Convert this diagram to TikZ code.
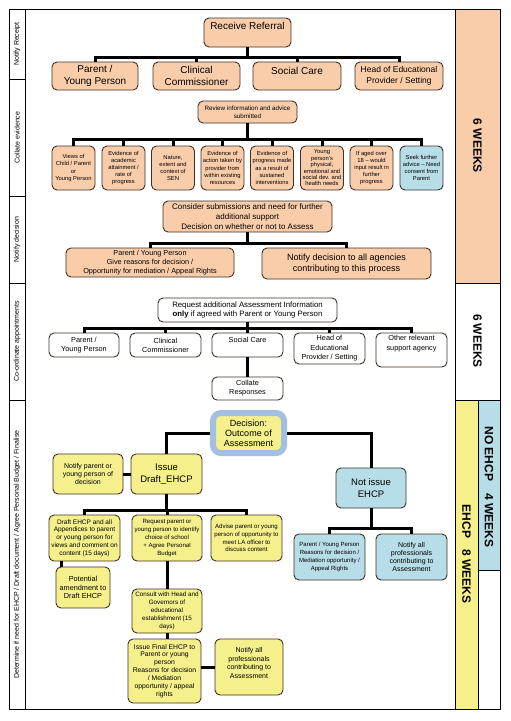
\documentclass[tikz,border=0pt]{standalone}
\usepackage{fontspec}
\setmainfont{Liberation Sans}
\usepackage{xcolor}
\usepackage{tikz}
\usetikzlibrary{calc}

\definecolor{peach}{HTML}{FACDAA}
\definecolor{paleblue}{HTML}{B7DEE8}
\definecolor{paleyellow}{HTML}{F6F08C}
\definecolor{deciblue}{HTML}{A3C0E2}
\definecolor{boxline}{HTML}{3C3228}

\newcommand{\setfs}[2]{\fontsize{#1}{#2}\selectfont}

\tikzset{
  box/.style={draw=boxline, line width=0.9pt, rounded corners=5pt, align=center, inner sep=1pt},
  peachbox/.style={box, fill=peach},
  bluebox/.style={box, fill=paleblue},
  yellowbox/.style={box, fill=paleyellow},
  whitebox/.style={box, fill=white},
  evid/.style={peachbox, sz={43}{44}, font=\setfs{5.8}{7.2}},
  link/.style={line width=3pt},
  weeks/.style={rotate=-90, font=\bfseries\setfs{12}{14}},
  sidelabel/.style={rotate=90, font=\setfs{7}{8}},
  sz/.style 2 args={minimum width=#1, minimum height=#2},
}

\begin{document}
\begin{tikzpicture}[x=1pt, y=-1pt]
    \useasboundingbox (0,0) rectangle (511,721);

    % frame and side labels
    \draw[line width=0.8pt] (9,9) rectangle (455,709);
    \draw[line width=0.8pt] (25,9) -- (25,709);
    \foreach \y in {79,196,283,400} \draw[line width=0.8pt] (9,\y) -- (25,\y);
    \node[sidelabel] (lblreceipt) at (17,44) {Notify Receipt};
    \node[sidelabel] (lblcollate) at (17,137.5) {Collate evidence};
    \node[sidelabel] (lbldecision) at (17,239.5) {Notify decision};
    \node[sidelabel] (lblappoint) at (17,341.5) {Co-ordinate appointments};
    \node[sidelabel] (lblfinal) at (17,554.5) {Determine if need for EHCP / Draft document / Agree Personal Budget / Finalise};

    % weeks column
    \draw[line width=0.8pt, fill=peach] (455,9) rectangle (500,283);
    \draw[line width=0.8pt] (455,283) rectangle (500,400);
    \draw[line width=0.8pt, fill=paleyellow] (455,400) rectangle (478,709);
    \draw[line width=0.8pt, fill=paleblue] (478,400) rectangle (500,570);
    \draw[line width=0.8pt] (478,570) rectangle (500,709);
    \node[weeks] (wkfirst) at (477.5,146) {6 WEEKS};
    \node[weeks] (wksecond) at (477.5,341) {6 WEEKS};
    \node[weeks] (wknoehcp) at (489,487) {NO EHCP\hspace{12pt}4 WEEKS};
    \node[weeks] (wkehcp) at (466.5,554) {EHCP\hspace{11pt}8 WEEKS};

    % Notify receipt
    \node[peachbox, sz={87}{29}, font=\setfs{10}{12}, text depth=14pt] (referral) at (247.5,32.5) {Receive Referral};
    \node[peachbox, sz={86}{28}, font=\setfs{10}{11.5}] (parent1) at (95,76) {Parent /\\Young Person};
    \node[peachbox, sz={87}{28}, font=\setfs{10}{11.5}] (clin1) at (196.5,76) {Clinical\\Commissioner};
    \node[peachbox, sz={88}{28}, font=\setfs{10}{11.5}, text depth=11pt] (social1) at (297,76) {Social Care};
    \node[peachbox, sz={88}{28}, font=\setfs{8.5}{11}] (head1) at (399,76) {Head of Educational\\Provider / Setting};

    % Collate evidence
    \node[peachbox, sz={99}{22}, font=\setfs{6.3}{7.5}] (review) at (247.5,112) {Review information and advice\\submitted};
    \node[evid] (ev1) at (73.5,168) {Views of\\Child / Parent\\or\\Young Person};
    \node[evid] (ev2) at (123.5,168) {Evidence of\\academic\\attainment /\\rate of\\progress};
    \node[evid] (ev3) at (173,168) {Nature,\\extent and\\context of\\SEN};
    \node[evid] (ev4) at (222.5,168) {Evidence of\\action taken by\\provider from\\within existing\\resources};
    \node[evid] (ev5) at (272,168) {Evidence of\\progress made\\as a result of\\sustained\\interventions};
    \node[evid, font=\setfs{5.8}{6.4}] (ev6) at (322,168) {Young\\person's\\physical,\\emotional and\\social dev. and\\health needs};
    \node[evid] (ev7) at (371.5,168) {If aged over\\18 -- would\\input result in\\further\\progress};
    \node[evid, fill=paleblue] (ev8) at (421.5,168) {Seek further\\advice -- Need\\consent from\\Parent};

    % Notify decision
    \node[peachbox, sz={169}{31}, font=\setfs{8}{9.7}] (consider) at (247.5,216.5) {Consider submissions and need for further\\additional support\\Decision on whether or not to Assess};
    \node[peachbox, sz={168}{29}, font=\setfs{7.3}{9.2}] (parent2) at (150,262.5) {Parent / Young Person\\Give reasons for decision /\\Opportunity for mediation / Appeal Rights};
    \node[peachbox, sz={169}{31}, font=\setfs{9}{11}] (notify2) at (346.5,263.5) {Notify decision to all agencies\\contributing to this process};

    % Co-ordinate appointments
    \node[whitebox, sz={179}{24}, font=\setfs{7.8}{9}] (request) at (247.5,310) {Request additional Assessment Information\\\textbf{only} if agreed with Parent or Young Person};
    \node[whitebox, sz={70}{24}, font=\setfs{7.3}{9}] (parent3) at (84,345) {Parent /\\Young Person};
    \node[whitebox, sz={71}{24}, font=\setfs{7.3}{9}] (clin3) at (165.5,345) {Clinical\\Commissioner};
    \node[whitebox, sz={71}{24}, font=\setfs{7.3}{9}, text depth=10pt] (social3) at (247.5,345) {Social Care};
    \node[whitebox, sz={71}{31}, font=\setfs{7.3}{9.5}] (head3) at (329.5,348.5) {Head of\\Educational\\Provider / Setting};
    \node[whitebox, sz={71}{34}, font=\setfs{7.3}{9.5}, text depth=14pt] (other3) at (411.5,350) {Other relevant\\support agency};
    \node[whitebox, sz={71}{23}, font=\setfs{7.3}{9}] (collate) at (247.5,388.5) {Collate\\Responses};

    % Determine / draft / finalise
    \node[yellowbox, draw=deciblue, line width=6pt, rounded corners=8pt, sz={71}{40}, font=\setfs{9}{10.2}] (decision) at (248.5,433) {Decision:\\Outcome of\\Assessment};
    \node[yellowbox, sz={71}{40}, font=\setfs{9.5}{11.7}] (issue) at (166.5,474) {Issue\\Draft\_EHCP};
    \node[yellowbox, sz={70}{40}, font=\setfs{7}{7.6}] (notifyp) at (88,474) {Notify parent or\\young person of\\decision};
    \node[yellowbox, sz={71}{46}, font=\setfs{6.5}{7.8}] (draftall) at (84.5,538) {Draft EHCP and all\\Appendices to parent\\or young person for\\views and comment on\\content (15 days)};
    \node[yellowbox, sz={70}{46}, font=\setfs{6.1}{7.8}] (request2) at (167,538) {Request parent or\\young person to identify\\choice of school\\+ Agree Personal\\Budget};
    \node[yellowbox, sz={71}{46}, font=\setfs{6.1}{7.8}] (advise) at (246.5,538) {Advise parent or young\\person of opportunity to\\meet LA officer to\\discuss content};
    \node[yellowbox, sz={54}{41}, font=\setfs{7.3}{8.7}] (amend) at (83,587.5) {Potential\\amendment to\\Draft EHCP};
    \node[yellowbox, sz={70}{44}, font=\setfs{6.3}{7.9}] (consult) at (167,611) {Consult with Head and\\Governors of\\educational\\establishment (15\\days)};
    \node[yellowbox, sz={73}{64}, font=\setfs{6.8}{7.9}] (final) at (164.5,671) {Issue Final EHCP to\\Parent or young\\person\\Reasons for decision\\/ Mediation\\opportunity / appeal\\rights};
    \node[yellowbox, sz={68}{56}, font=\setfs{7}{8.7}, text depth=8pt] (notifyall) at (249,667) {Notify all\\professionals\\contributing to\\Assessment};
    \node[bluebox, sz={70}{40}, font=\setfs{9.5}{11.7}] (notissue) at (371,488) {Not issue\\EHCP};
    \node[bluebox, sz={71}{46}, font=\setfs{6}{7.8}] (parent4) at (329.5,557) {Parent / Young Person\\Reasons for decision /\\Mediation opportunity /\\Appeal Rights};
    \node[bluebox, sz={71}{46}, font=\setfs{7}{8.3}] (notify4) at (411.5,557) {Notify all\\professionals\\contributing to\\Assessment};

    % links
    \coordinate (busreceipt) at (0,57);
    \foreach \n in {parent1,clin1,social1,head1}
      \draw[link] (referral.south) |- (busreceipt -| \n.north) -- (\n.north);
    \coordinate (busevid) at (0,139);
    \foreach \n in {ev1,ev2,ev3,ev4,ev5,ev6,ev7,ev8}
      \draw[link] (review.south) |- (busevid -| \n.north) -- (\n.north);
    \coordinate (busdecide) at (0,243);
    \foreach \n in {parent2,notify2}
      \draw[link] (consider.south) |- (busdecide -| \n.north) -- (\n.north);
    \coordinate (busappoint) at (0,328);
    \foreach \n in {parent3,clin3,social3,head3,other3}
      \draw[link] (request.south) |- (busappoint -| \n.north) -- (\n.north);
    \draw[link] (social3.south) -- (collate.north);

    \draw[link] (decision.west) -| (issue.north);
    \draw[link] (decision.east) -| (notissue.north);
    \draw[link] (notifyp.east) -- (issue.west);
    \coordinate (busissue) at (0,510);
    \foreach \n in {draftall,request2,advise}
      \draw[link] (issue.south) |- (busissue -| \n.north) -- (\n.north);
    \draw[link] ([xshift=6pt]amend.north west) -- ([xshift=6pt]amend.north west |- draftall.south);
    \draw[link] (request2.south) -- (consult.north);
    \draw[link] (consult.south) -- (consult.south |- final.north);
    \draw[link] (final.east |- notifyall.west) -- (notifyall.west);
    \coordinate (busnot) at (0,528);
    \foreach \n in {parent4,notify4}
      \draw[link] (notissue.south) |- (busnot -| \n.north) -- (\n.north);
\end{tikzpicture}
\end{document}
